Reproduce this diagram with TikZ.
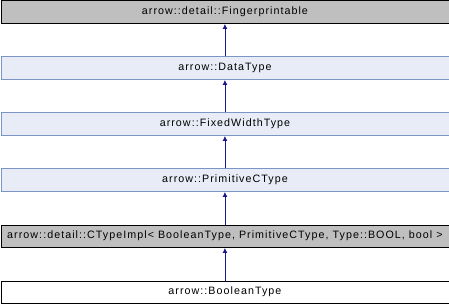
\documentclass[tikz,border=0pt]{standalone}
\usepackage{fontspec}
\setmainfont{Liberation Sans}
\newfontfamily\classfont[LetterSpace=9.8]{Liberation Sans}
\usetikzlibrary{arrows.meta}
\definecolor{edgeblue}{HTML}{1A1A8C}
\definecolor{boxblue}{HTML}{E8ECF6}
\definecolor{boxblueline}{HTML}{7B95C5}
\definecolor{boxgray}{HTML}{BFBFBF}
\tikzset{
  cls/.style={minimum width=448pt, minimum height=22.5pt, inner sep=0pt, anchor=north west,
    font=\classfont\fontsize{10.7}{12}\selectfont, line width=0.9pt},
  grayclass/.style={cls, draw=black, fill=boxgray},
  blueclass/.style={cls, draw=boxblueline, fill=boxblue},
  plainclass/.style={cls, draw=black, fill=white},
  inherit/.style={draw=edgeblue, line width=0.9pt, -{Latex[length=5pt,width=5pt]}}
}
\begin{document}
\begin{tikzpicture}[x=1pt,y=-1pt]
\useasboundingbox (0,0) rectangle (449,304);
\node[grayclass]  (fp)  at (0.5,0.5)   {arrow::detail::Fingerprintable};
\node[blueclass]  (dt)  at (0.5,56.5)  {arrow::DataType};
\node[blueclass]  (fw)  at (0.5,112.5) {arrow::FixedWidthType};
\node[blueclass]  (pc)  at (0.5,168.5) {arrow::PrimitiveCType};
\node[grayclass]  (ci)  at (0.5,224.5) {arrow::detail::CTypeImpl< BooleanType, PrimitiveCType, Type::BOOL, bool >};
\node[plainclass] (bt)  at (0.5,280.5) {arrow::BooleanType};
\draw[inherit] (dt.north) -- (fp.south);
\draw[inherit] (fw.north) -- (dt.south);
\draw[inherit] (pc.north) -- (fw.south);
\draw[inherit] (ci.north) -- (pc.south);
\draw[inherit] (bt.north) -- (ci.south);
\end{tikzpicture}
\end{document}
